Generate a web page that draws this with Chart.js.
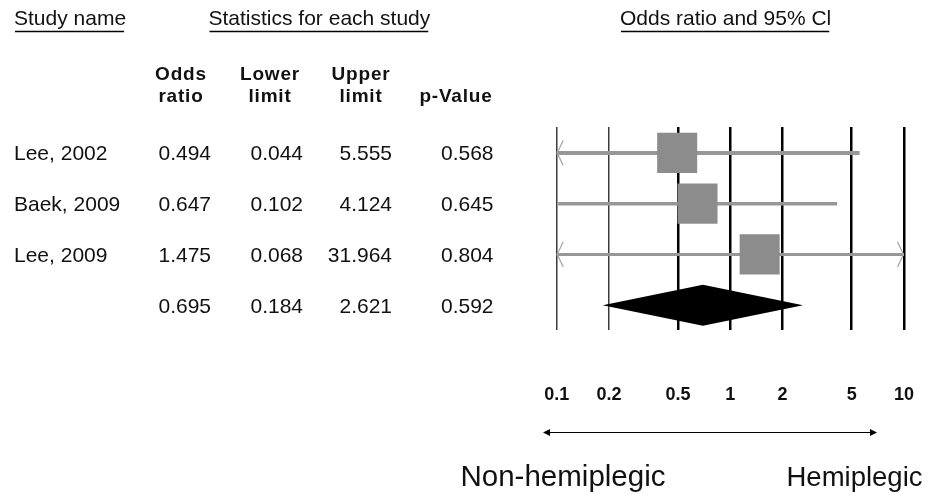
<!DOCTYPE html>
<html>
<head>
<meta charset="utf-8">
<script src="https://cdn.jsdelivr.net/npm/chart.js@4.4.1/dist/chart.umd.min.js"></script>
<style>
  html, body { margin: 0; padding: 0; background: #fff; }
  #wrap { width: 936px; height: 495px; position: relative; }
</style>
</head>
<body>
<div id="wrap"><canvas id="forest" width="936" height="495"></canvas></div>
<script>
// Per-study rows; the last row is the pooled estimate (no study name).
const studyNames = ['Lee, 2002', 'Baek, 2009', 'Lee, 2009', ''];
const oddsRatio  = [0.494, 0.647, 1.475, 0.695];
const lowerLimit = [0.044, 0.102, 0.068, 0.184];
const upperLimit = [5.555, 4.124, 31.964, 2.621];
const pValue     = [0.568, 0.645, 0.804, 0.592];

// Odds-ratio axis
const tickValues = [0.1, 0.2, 0.5, 1, 2, 5, 10];
const tickLabels = ['0.1', '0.2', '0.5', '1', '2', '5', '10'];

const FONT = '"Liberation Sans", Arial, Helvetica, sans-serif';
const INK = '#111';
const nStudies = studyNames.length - 1;
const rowOf = i => i + 1;

// Whisker lines (clipped to the plot area) and weight boxes
const ciWidths = [4, 3.5, 3];
const datasets = [];
for (let i = 0; i < nStudies; i++) {
  datasets.push({
    type: 'line',
    data: [{ x: lowerLimit[i], y: rowOf(i) }, { x: upperLimit[i], y: rowOf(i) }],
    borderColor: '#979797',
    borderWidth: ciWidths[i],
    pointRadius: 0,
    fill: false,
    clip: 0,
    order: 2
  });
}
datasets.push({
  type: 'scatter',
  data: oddsRatio.slice(0, nStudies).map((v, i) => ({ x: v, y: rowOf(i) })),
  pointStyle: 'rect',
  pointRadius: 28.3,
  backgroundColor: '#8c8c8c',
  borderWidth: 0,
  order: 1
});

function drawText(ctx, s, x, y, font, align, spacing) {
  ctx.save();
  ctx.font = font;
  ctx.fillStyle = INK;
  ctx.textAlign = align || 'left';
  ctx.textBaseline = 'alphabetic';
  ctx.letterSpacing = (spacing || 0) + 'px';
  ctx.fillText(s, x, y);
  const w = ctx.measureText(s).width;
  ctx.restore();
  return w;
}

function underlinedTitle(ctx, s, x, y) {
  const w = drawText(ctx, s, x, y, '21px ' + FONT);
  ctx.save();
  ctx.strokeStyle = '#000';
  ctx.lineWidth = 1.4;
  ctx.beginPath();
  ctx.moveTo(x + 1, y + 6.5);
  ctx.lineTo(x + w - 2, y + 6.5);
  ctx.stroke();
  ctx.restore();
}

const forestDecor = {
  id: 'forestDecor',
  afterDatasetsDraw(chart) {
    const ctx = chart.ctx;
    const xs = chart.scales.x, ys = chart.scales.y;
    const area = chart.chartArea;

    // Pooled estimate diamond
    const k = nStudies;
    const yc = ys.getPixelForValue(rowOf(k));
    const half = 20.5;
    ctx.save();
    ctx.fillStyle = '#000';
    ctx.beginPath();
    ctx.moveTo(xs.getPixelForValue(lowerLimit[k]), yc);
    ctx.lineTo(xs.getPixelForValue(oddsRatio[k]), yc - half);
    ctx.lineTo(xs.getPixelForValue(upperLimit[k]), yc);
    ctx.lineTo(xs.getPixelForValue(oddsRatio[k]), yc + half);
    ctx.closePath();
    ctx.fill();
    ctx.restore();

    // Arrow chevrons where an interval runs past the axis range
    ctx.save();
    ctx.strokeStyle = '#a8a8a8';
    ctx.lineWidth = 1.2;
    for (let i = 0; i < nStudies; i++) {
      const y = ys.getPixelForValue(rowOf(i));
      if (lowerLimit[i] < xs.min) {
        const x = area.left + 0.5;
        ctx.beginPath();
        ctx.moveTo(x + 6, y - 12.5);
        ctx.lineTo(x, y);
        ctx.lineTo(x + 6, y + 12.5);
        ctx.stroke();
      }
      if (upperLimit[i] > xs.max) {
        const x = area.right - 0.5;
        ctx.beginPath();
        ctx.moveTo(x - 6, y - 12.5);
        ctx.lineTo(x, y);
        ctx.lineTo(x - 6, y + 12.5);
        ctx.stroke();
      }
    }
    ctx.restore();
  },
  afterDraw(chart) {
    const ctx = chart.ctx;
    const ys = chart.scales.y;

    // Section titles
    underlinedTitle(ctx, 'Study name', 14, 25);
    underlinedTitle(ctx, 'Statistics for each study', 208.5, 25);
    underlinedTitle(ctx, 'Odds ratio and 95% Cl', 620, 25);

    // Column headings
    const hb = 'bold 19px ' + FONT;
    const colCenters = [181, 270, 361, 456];
    const head1 = ['Odds', 'Lower', 'Upper', ''];
    const head2 = ['ratio', 'limit', 'limit', 'p-Value'];
    colCenters.forEach((cx, j) => {
      if (head1[j]) drawText(ctx, head1[j], cx, 80, hb, 'center', 0.8);
      drawText(ctx, head2[j], cx, 102, hb, 'center', 0.8);
    });

    // Table body
    const bf = '21px ' + FONT;
    const colRight = [211, 303, 392, 493.5];
    for (let i = 0; i < studyNames.length; i++) {
      const y = ys.getPixelForValue(rowOf(i)) + 7.5;
      if (studyNames[i]) drawText(ctx, studyNames[i], 14, y, bf, 'left');
      const vals = [oddsRatio[i], lowerLimit[i], upperLimit[i], pValue[i]];
      vals.forEach((v, j) => drawText(ctx, v.toFixed(3), colRight[j], y, bf, 'right'));
    }

    // Double-headed direction arrow
    const ay = 432.5, ax0 = 543, ax1 = 877;
    ctx.save();
    ctx.strokeStyle = '#000';
    ctx.fillStyle = '#000';
    ctx.lineWidth = 1;
    ctx.beginPath();
    ctx.moveTo(ax0 + 4, ay);
    ctx.lineTo(ax1 - 4, ay);
    ctx.stroke();
    ctx.beginPath();
    ctx.moveTo(ax0, ay); ctx.lineTo(ax0 + 7, ay - 3.5); ctx.lineTo(ax0 + 7, ay + 3.5); ctx.closePath();
    ctx.fill();
    ctx.beginPath();
    ctx.moveTo(ax1, ay); ctx.lineTo(ax1 - 7, ay - 3.5); ctx.lineTo(ax1 - 7, ay + 3.5); ctx.closePath();
    ctx.fill();
    ctx.restore();

    drawText(ctx, 'Non-hemiplegic', 460.5, 486, '29.5px ' + FONT, 'left');
    drawText(ctx, 'Hemiplegic', 786.5, 486, '27.5px ' + FONT, 'left');
  }
};

new Chart(document.getElementById('forest'), {
  type: 'scatter',
  data: { datasets },
  options: {
    responsive: false,
    animation: false,
    events: [],
    devicePixelRatio: 1,
    layout: { padding: { left: 556.7, right: 32, top: 127, bottom: 0 } },
    plugins: { legend: { display: false }, tooltip: { enabled: false } },
    scales: {
      x: {
        type: 'logarithmic',
        min: tickValues[0],
        max: tickValues[tickValues.length - 1],
        afterBuildTicks: s => { s.ticks = tickValues.map(v => ({ value: v })); },
        afterFit: s => { s.height = 165; },
        border: { display: false },
        grid: {
          drawTicks: true,
          tickLength: 54,
          tickColor: 'rgba(0,0,0,0)',
          color: c => (c.tick && c.tick.value < 0.3) ? '#3a3a3a' : '#000',
          lineWidth: c => (c.tick && c.tick.value < 0.3) ? 1.5 : 2.5
        },
        ticks: {
          autoSkip: false,
          maxRotation: 0,
          padding: 0,
          color: INK,
          font: { family: FONT, size: 18, weight: 'bold' },
          callback: (v, i) => tickLabels[i]
        }
      },
      y: {
        type: 'linear',
        display: false,
        reverse: true,
        min: 0.49,
        max: 4.49
      }
    }
  },
  plugins: [forestDecor]
});
</script>
</body>
</html>
